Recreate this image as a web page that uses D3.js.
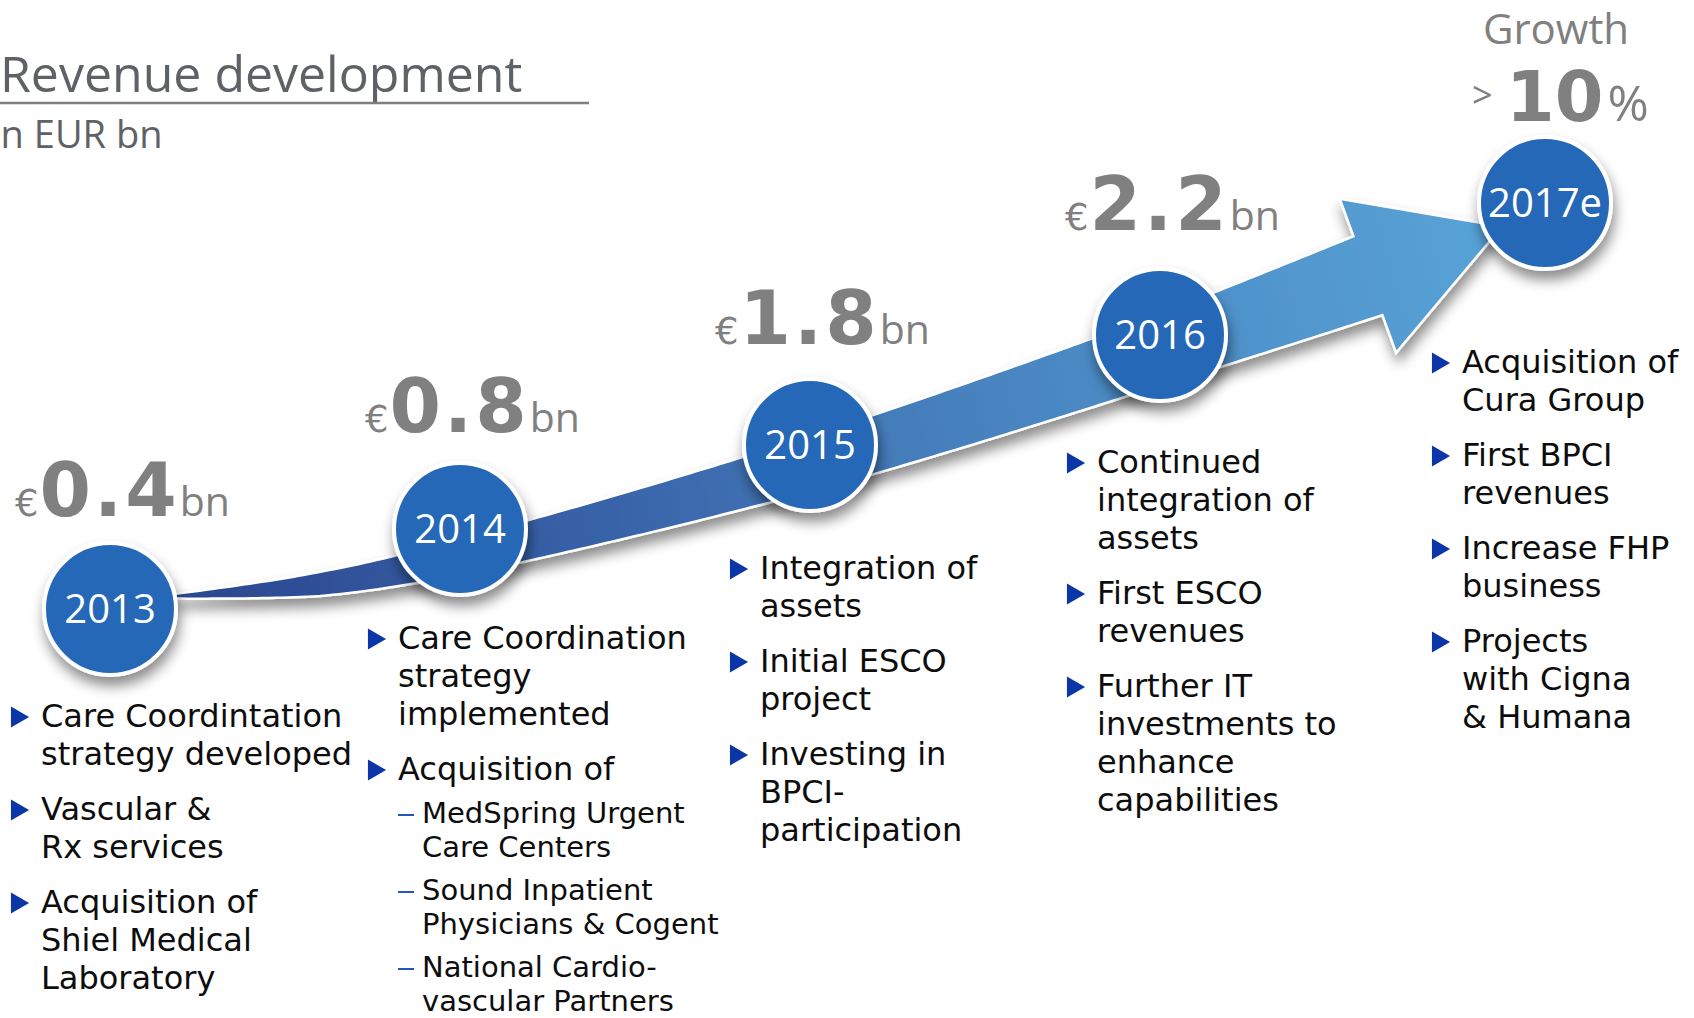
<!DOCTYPE html>
<html>
<head>
<meta charset="utf-8">
<script src="https://cdn.jsdelivr.net/npm/d3@7"></script>
<style>
  html, body { margin: 0; padding: 0; background: #fff; overflow: hidden; }
  svg { display: block; }
</style>
</head>
<body>
<svg id="chart" width="1694" height="1018"></svg>
<script>
// ---- data ----
const years = ['2013', '2014', '2015', '2016', '2017e'];
const revenueBn = [0.4, 0.8, 1.8, 2.2];   // 2017e only has the growth figure
const growthPct = 10;                     // "> 10 %"

const notes2013 = [
  { lines: ['Care Coordintation', 'strategy developed'] },
  { lines: ['Vascular &', 'Rx services'] },
  { lines: ['Acquisition of', 'Shiel Medical', 'Laboratory'] }
];
const notes2014 = [
  { lines: ['Care Coordination', 'strategy', 'implemented'] },
  { lines: ['Acquisition of'] },
  { lines: ['MedSpring Urgent', 'Care Centers'], sub: true },
  { lines: ['Sound Inpatient', 'Physicians & Cogent'], sub: true },
  { lines: ['National Cardio-', 'vascular Partners'], sub: true }
];
const notes2015 = [
  { lines: ['Integration of', 'assets'] },
  { lines: ['Initial ESCO', 'project'] },
  { lines: ['Investing in', 'BPCI-', 'participation'] }
];
const notes2016 = [
  { lines: ['Continued', 'integration of', 'assets'] },
  { lines: ['First ESCO', 'revenues'] },
  { lines: ['Further IT', 'investments to', 'enhance', 'capabilities'] }
];
const notes2017 = [
  { lines: ['Acquisition of', 'Cura Group'] },
  { lines: ['First BPCI', 'revenues'] },
  { lines: ['Increase FHP', 'business'] },
  { lines: ['Projects', 'with Cigna', '& Humana'] }
];
const notes = [notes2013, notes2014, notes2015, notes2016, notes2017];

// ---- layout ----
const svg = d3.select('#chart');
const defs = svg.append('defs');

const idx = d3.range(years.length);
const xPos = d3.scaleLinear().domain(idx).range([110, 460, 810, 1160, 1545]);
const yPos = d3.scaleLinear().domain(idx).range([609, 529, 445, 335, 203]);
const R = 66;

const colX = d3.scaleOrdinal().domain(years).range([41, 398, 760, 1097, 1462]);
const colTop = d3.scaleOrdinal().domain(years).range([727, 649, 579, 473, 373]);

const grey = '#808080';
const sans = "'Open Sans', Roboto, sans-serif";
const verd = "'DejaVu Sans', Verdana, sans-serif";

// shadow + gradient
const sh = defs.append('filter').attr('id', 'shadow')
  .attr('x', '-20%').attr('y', '-20%').attr('width', '140%').attr('height', '160%');
sh.append('feDropShadow').attr('dx', 2).attr('dy', 9).attr('stdDeviation', 6.5)
  .attr('flood-color', '#000').attr('flood-opacity', 0.45);

const grad = defs.append('linearGradient').attr('id', 'band')
  .attr('gradientUnits', 'userSpaceOnUse')
  .attr('x1', xPos(0.2)).attr('y1', yPos(0.2))
  .attr('x2', xPos(3.9)).attr('y2', yPos(3.9));
[['0', '#2b4790'], ['0.3', '#3862a8'], ['0.6', '#4883c0'], ['1', '#58a4d8']]
  .forEach(([o, c]) => grad.append('stop').attr('offset', o).attr('stop-color', c));

// ---- title ----
svg.append('text').attr('x', 0).attr('y', 92)
  .attr('font-family', sans).attr('font-size', 50).attr('fill', '#5e6266')
  .text('Revenue development');
svg.append('line').attr('x1', 0).attr('x2', 589).attr('y1', 103).attr('y2', 103)
  .attr('stroke', '#7f7f7f').attr('stroke-width', 2.5);
svg.append('text').attr('x', -9).attr('y', 148)
  .attr('font-family', sans).attr('font-size', 38).attr('fill', '#5e6266')
  .text('in EUR bn');

// ---- arrow band ----
const knotT = [0.15, 0.6, 1, 2, 3, 3.54];
const drop = d3.scaleLinear().domain(knotT).range([0, 23, 28, 19, 15, 12]);
const halfW = d3.scaleLinear().domain(knotT).range([1.5, 12, 18, 27, 34, 42]);
const knots = knotT.map(t => [xPos(t), yPos(t) + drop(t)]);

const centre = svg.append('path')
  .attr('d', d3.line().curve(d3.curveCatmullRom.alpha(0.5))(knots))
  .attr('fill', 'none');
const node = centre.node();
const len = node.getTotalLength();
const N = 200;
const pts = d3.range(N + 1).map(i => node.getPointAtLength(len * i / N));
centre.remove();

const upper = [], lower = [];
let ux = 1, uy = 0;
pts.forEach((p, i) => {
  const a = pts[Math.max(0, i - 1)], b = pts[Math.min(N, i + 1)];
  const dx = b.x - a.x, dy = b.y - a.y, d = Math.hypot(dx, dy);
  ux = dx / d; uy = dy / d;
  const w = halfW(xPos.invert(p.x));
  upper.push([p.x + uy * w, p.y - ux * w]);
  lower.push([p.x - uy * w, p.y + ux * w]);
});
const E = pts[N];
const headLen = 143, headW = 82;
const head = [
  [E.x + uy * headW, E.y - ux * headW],
  [E.x + ux * headLen, E.y + uy * headLen],
  [E.x - uy * headW, E.y + ux * headW]
];
const outline = upper.concat(head, lower.reverse());

svg.append('path')
  .attr('d', d3.line()(outline) + 'Z')
  .attr('fill', 'url(#band)')
  .attr('stroke', '#fff').attr('stroke-width', 2.5).attr('stroke-linejoin', 'miter')
  .attr('filter', 'url(#shadow)');

// ---- milestone circles ----
const ms = svg.append('g').selectAll('g').data(years).join('g')
  .attr('transform', (d, i) => `translate(${xPos(i)},${yPos(i)})`);
ms.append('circle').attr('r', R)
  .attr('fill', '#2868b8').attr('stroke', '#fff').attr('stroke-width', 4)
  .attr('filter', 'url(#shadow)');
ms.append('text').attr('y', 14).attr('text-anchor', 'middle')
  .attr('font-family', sans).attr('font-size', 40).attr('fill', '#fff')
  .text(d => d);

// ---- revenue labels ----
const lift = d3.scaleLinear().domain([0, 3]).range([93, 105]);
svg.append('g').selectAll('text').data(revenueBn).join('text')
  .attr('x', (d, i) => xPos(i) - 95)
  .attr('y', (d, i) => yPos(i) - lift(i))
  .attr('fill', grey)
  .each(function (d) {
    const t = d3.select(this);
    t.append('tspan').attr('font-family', verd).attr('font-size', 37).text('€');
    t.append('tspan').attr('font-family', verd).attr('font-weight', 'bold')
      .attr('font-size', 74).attr('letter-spacing', 3).attr('dx', 1)
      .text(d3.format('.1f')(d));
    t.append('tspan').attr('font-family', sans).attr('font-size', 41).attr('dx', 0).text('bn');
  });

// growth label
svg.append('text').attr('x', xPos(4) + 11).attr('y', 44).attr('text-anchor', 'middle')
  .attr('font-family', sans).attr('font-size', 42).attr('fill', grey).text('Growth');
svg.append('text').attr('x', xPos(4) - 73).attr('y', 108)
  .attr('font-family', sans).attr('font-size', 36).attr('fill', grey).text('>');
const g10 = svg.append('text').attr('x', xPos(4) - 39).attr('y', 121).attr('fill', grey);
g10.append('tspan').attr('font-family', verd).attr('font-weight', 'bold').attr('font-size', 70)
  .text(growthPct);
g10.append('tspan').attr('font-family', sans).attr('font-size', 50).attr('dx', 4).text('%');

// ---- bullet notes ----
const lineH = 38, gapMain = 55, lineSub = 34, gapSub = 43;
const tri = d3.symbol(d3.symbolTriangle, 190);

notes.forEach((list, ci) => {
  const yr = years[ci];
  const x0 = colX(yr);
  const g = svg.append('g');
  let y = colTop(yr);
  list.forEach((item, k) => {
    if (k > 0) y += item.sub ? gapSub : gapMain;
    if (item.sub) {
      g.append('line').attr('x1', x0).attr('x2', x0 + 16)
        .attr('y1', y - 8).attr('y2', y - 8)
        .attr('stroke', '#2653c4').attr('stroke-width', 2);
    } else {
      g.append('path').attr('d', tri)
        .attr('transform', `translate(${x0 - 24},${y - 10}) rotate(90)`)
        .attr('fill', '#0a36a8');
    }
    item.lines.forEach((ln, j) => {
      if (j > 0) y += item.sub ? lineSub : lineH;
      g.append('text')
        .attr('x', item.sub ? x0 + 24 : x0).attr('y', y)
        .attr('font-family', verd).attr('font-size', item.sub ? 29 : 32)
        .attr('fill', '#0d0d0d')
        .text(ln);
    });
  });
});
</script>
</body>
</html>
